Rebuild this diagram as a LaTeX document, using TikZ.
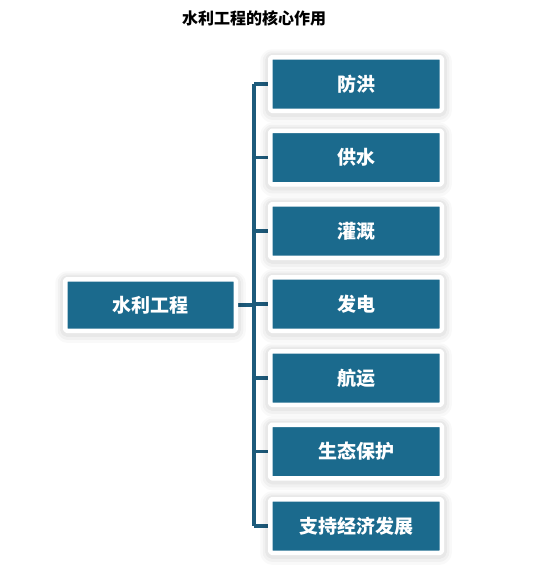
\documentclass[tikz,border=0pt]{standalone}
\usepackage{fontspec}
\setmainfont{Noto Sans CJK SC}
\usetikzlibrary{positioning,backgrounds}
\definecolor{boxblue}{HTML}{1B6A8D}
\definecolor{lineblue}{HTML}{1D5B7B}
\tikzset{
    rolebox/.style={draw=white, line width=4.5pt, fill=boxblue, text=white,
        rounded corners=1.5pt, line join=round,
        font=\fontsize{19}{21}\selectfont\bfseries,
        minimum width=171.5pt, minimum height=53.5pt, inner sep=0pt,
        preaction={draw=black, draw opacity=0.025, line width=20pt, transform canvas={yshift=-2pt}},
        preaction={draw=black, draw opacity=0.03, line width=15pt, transform canvas={yshift=-1.5pt}},
        preaction={draw=black, draw opacity=0.04, line width=10pt, transform canvas={yshift=-1pt}}},
    link/.style={lineblue, line width=3.2pt}
}
\begin{document}
\begin{tikzpicture}[x=1pt, y=1pt]
    \useasboundingbox (0,0) rectangle (557,-573);
    % Title
    \node[font=\fontsize{16}{18}\selectfont\bfseries] (title) at (254,-18) {水利工程的核心作用};

    % Left box
    \node[rolebox, minimum width=170.5pt, minimum height=51.5pt] (root) at (150.5,-305) {水利工程};

    % Right boxes
    \node[rolebox] (flood) at (356,-84) {防洪};
    \node[rolebox] (supply) at (356,-157.5) {供水};
    \node[rolebox] (irrig) at (356,-231) {灌溉};
    \node[rolebox] (power) at (356,-304) {发电};
    \node[rolebox] (ship) at (356,-378) {航运};
    \node[rolebox] (eco) at (356,-451.5) {生态保护};
    \node[rolebox] (econ) at (356,-526) {支持经济发展};

    % Connectors
    \coordinate (spine) at (254,0);
    \begin{scope}[on background layer]
        \draw[link] (spine |- flood.west) -- (spine |- econ.west);
        \draw[link] (root.east) -- (root.east -| spine);
        \draw[link] (spine |- flood.west) -- (flood.west);
        \draw[link] (spine |- supply.west) -- (supply.west);
        \draw[link] (spine |- irrig.west) -- (irrig.west);
        \draw[link] (spine |- power.west) -- (power.west);
        \draw[link] (spine |- ship.west) -- (ship.west);
        \draw[link] (spine |- eco.west) -- (eco.west);
        \draw[link] (spine |- econ.west) -- (econ.west);
    \end{scope}
\end{tikzpicture}
\end{document}
